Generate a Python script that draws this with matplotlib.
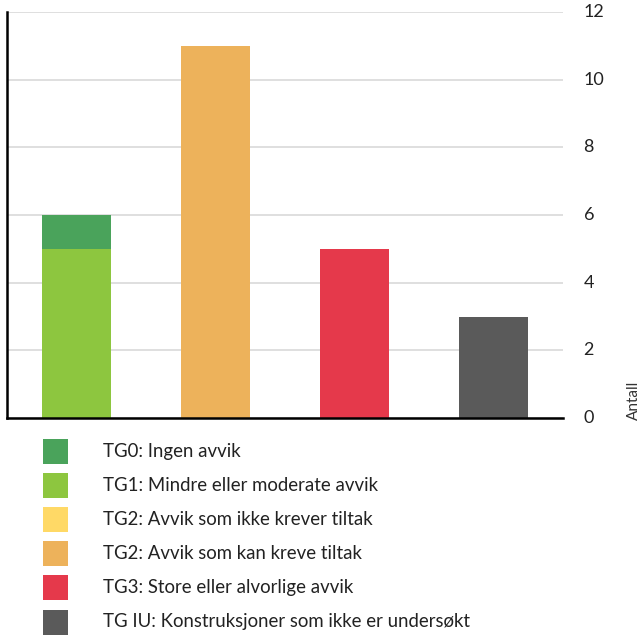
import numpy as np
import matplotlib.pyplot as plt
from matplotlib.patches import Rectangle

plt.rcParams['font.family'] = ['Lato', 'DejaVu Sans']

# data
bar_pos = [0, 1, 2, 3]
labels = ["TG0: Ingen avvik",
          "TG1: Mindre eller moderate avvik",
          "TG2: Avvik som ikke krever tiltak",
          "TG2: Avvik som kan kreve tiltak",
          "TG3: Store eller alvorlige avvik",
          "TG IU: Konstruksjoner som ikke er undersøkt"]
colors = ["#4aa35b", "#8dc63f", "#ffd966", "#edb25b", "#e5394b", "#5a5a5a"]
# stacking order bottom->top per bar
tg1 = [5, 0, 0, 0]
tg0 = [1, 0, 0, 0]
tg2_ikke = [0, 0, 0, 0]
tg2_kan = [0, 11, 0, 0]
tg3 = [0, 0, 5, 0]
tg_iu = [0, 0, 0, 3]
yticks = [0, 2, 4, 6, 8, 10, 12]

fig = plt.figure(figsize=(6.4, 6.35), dpi=100)
ax = fig.add_axes([7/640, 1-418/635, 556/640, 406/635])

series = [(tg1, colors[1]), (tg0, colors[0]), (tg2_ikke, colors[2]),
          (tg2_kan, colors[3]), (tg3, colors[4]), (tg_iu, colors[5])]
bottom = np.zeros(len(bar_pos))
for vals, c in series:
    vals = np.array(vals, dtype=float)
    ax.bar(bar_pos, vals, width=0.5, bottom=bottom, color=c, linewidth=0, zorder=3)
    bottom += vals

ax.set_xlim(-0.5, 3.5)
ax.set_ylim(0, 12)
ax.set_yticks(yticks)
ax.tick_params(axis='y', length=0, labelleft=False, labelright=False)
# right side tick labels, placed a bit away from the plot
for v in yticks:
    ax.text(1.037, v, str(v), transform=ax.get_yaxis_transform(),
            ha="left", va="center", fontsize=13, color="#222222")
ax.set_xticks([])
ax.grid(axis='y', color="#d9d9d9", linewidth=1.2, zorder=0)
for s in ["top", "right"]:
    ax.spines[s].set_visible(False)
ax.spines["left"].set_linewidth(1.8)
ax.spines["bottom"].set_linewidth(1.8)
ax.spines["left"].set_zorder(4)
ax.spines["bottom"].set_zorder(4)

fig.text(634/640, 1-420/635, "Antall", rotation=90, ha="center", va="bottom",
         fontsize=11, color="#333333")

# legend
for i, (lab, c) in enumerate(zip(labels, colors)):
    yc = 451 + i * 34.2
    fig.add_artist(Rectangle((43/640, 1-(yc+12.5)/635), 25/640, 25/635,
                             transform=fig.transFigure, color=c, linewidth=0))
    fig.text(103/640, 1-yc/635, lab, va="center", ha="left", fontsize=13.4,
             color="#222222")

fig.savefig("out.png", dpi=100)
